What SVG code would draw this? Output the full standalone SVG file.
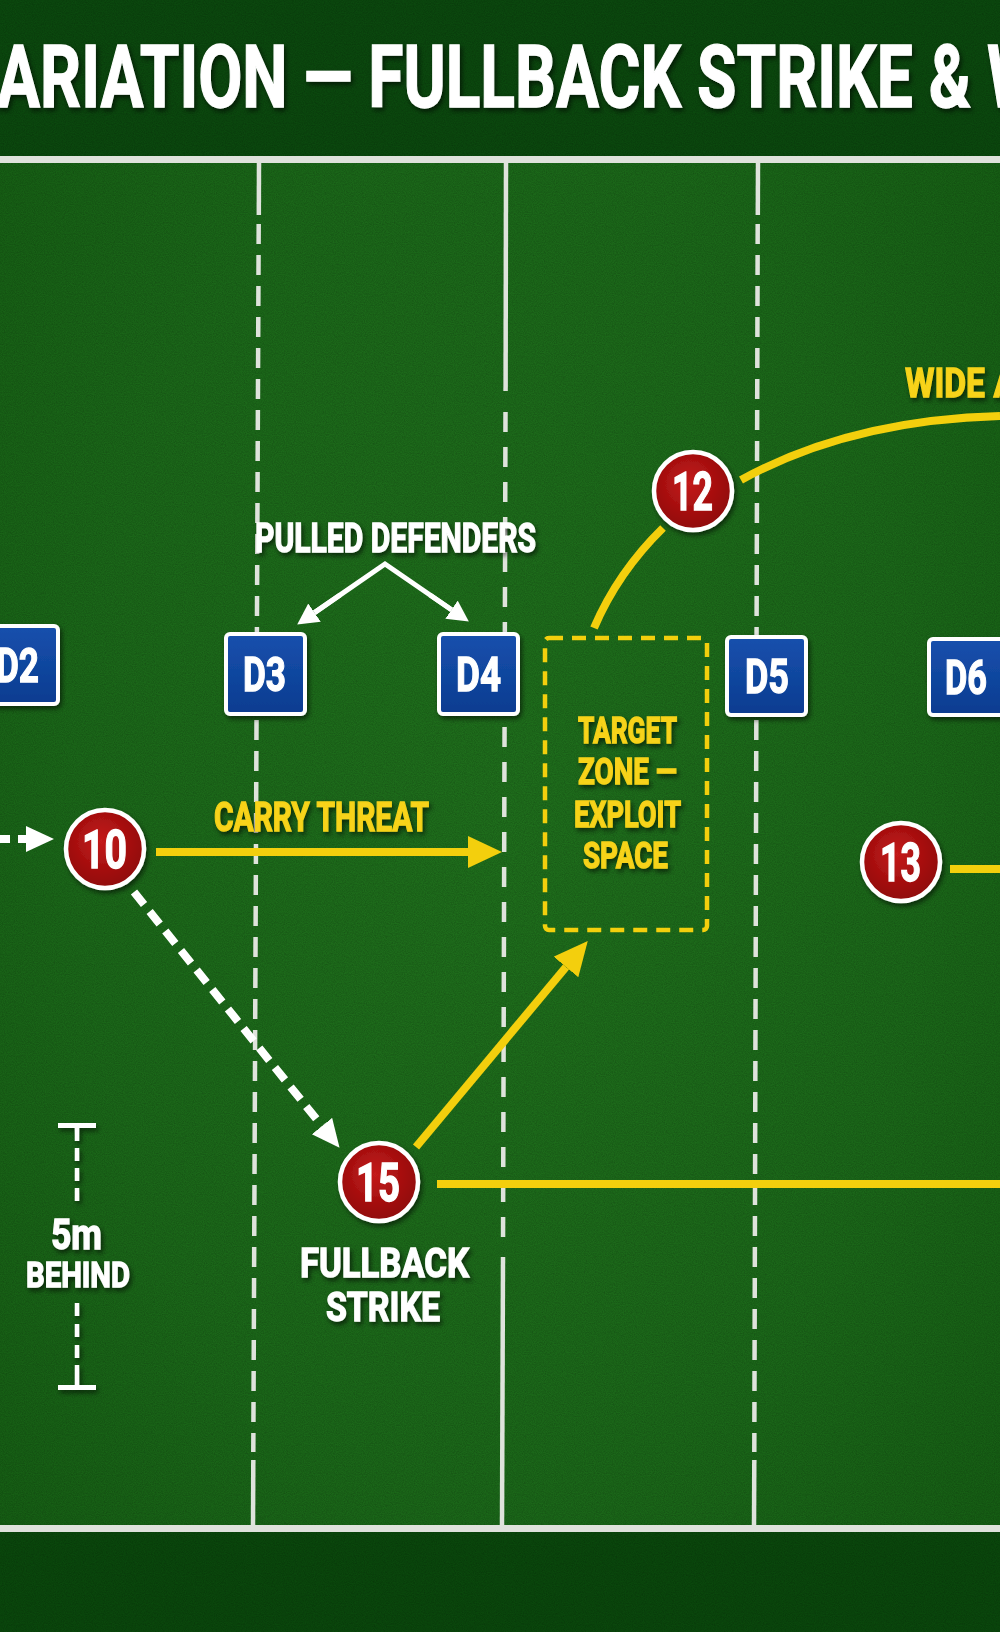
<svg xmlns="http://www.w3.org/2000/svg" width="1000" height="1632" viewBox="0 0 1000 1632">
<defs>
  <style>
    .lbl { font-family: Roboto, "Liberation Sans", Arial, sans-serif; font-weight: 700; }
    .wt { fill: #ffffff; stroke: #ffffff; stroke-width: 1.3; }
    .yt { fill: #f7d31a; stroke: #f7d31a; stroke-width: 1.3; }
    .fl { stroke: #dfe3dc; stroke-width: 4.5; fill: none; }
    .box { fill: url(#boxg); stroke: #ffffff; stroke-width: 4; }
    .disc { fill: url(#discg); stroke: #ffffff; stroke-width: 4.5; }
    .ylw { stroke: #f3cf0d; stroke-width: 8; fill: none; }
    .wdash { stroke: #ffffff; stroke-width: 8; fill: none; stroke-dasharray: 16 9; }
  </style>
  <radialGradient id="fieldg" cx="0.5" cy="0.5" r="0.7">
    <stop offset="0" stop-color="#1f6e1c"/>
    <stop offset="0.6" stop-color="#1b6719"/>
    <stop offset="1" stop-color="#155c13"/>
  </radialGradient>
  <linearGradient id="boxg" x1="0" y1="0" x2="0" y2="1">
    <stop offset="0" stop-color="#1650ad"/>
    <stop offset="1" stop-color="#0b3c90"/>
  </linearGradient>
  <radialGradient id="discg" cx="0.45" cy="0.4" r="0.65">
    <stop offset="0" stop-color="#c41a1a"/>
    <stop offset="1" stop-color="#8c0707"/>
  </radialGradient>
  <filter id="noise" x="0" y="0" width="1" height="1">
    <feTurbulence type="fractalNoise" baseFrequency="0.9" numOctaves="2" seed="7"/>
    <feColorMatrix type="matrix" values="0 0 0 0 0  0 0 0 0 0  0 0 0 0 0  1 0 0 0 -0.3"/>
  </filter>
  <filter id="sh" x="-20%" y="-20%" width="140%" height="150%">
    <feDropShadow dx="2" dy="3" stdDeviation="2.5" flood-color="#000" flood-opacity="0.55"/>
  </filter>
  <filter id="tsh" x="-10%" y="-20%" width="120%" height="160%">
    <feDropShadow dx="2" dy="3" stdDeviation="2.5" flood-color="#000" flood-opacity="0.6"/>
  </filter>
  <marker id="yhead" markerUnits="userSpaceOnUse" markerWidth="36" markerHeight="34" refX="0" refY="16" orient="auto" viewBox="0 0 36 34">
    <path d="M0,0 L34,16 L0,32 z" fill="#f3cf0d"/>
  </marker>
  <marker id="whead" markerUnits="userSpaceOnUse" markerWidth="30" markerHeight="28" refX="0" refY="13" orient="auto" viewBox="0 0 30 28">
    <path d="M0,0 L28,13 L0,26 z" fill="#ffffff"/>
  </marker>
  <marker id="wsmall" markerUnits="userSpaceOnUse" markerWidth="22" markerHeight="24" refX="0" refY="11" orient="auto" viewBox="0 0 22 24">
    <path d="M0,0 L21,11 L0,22 z" fill="#ffffff"/>
  </marker>
</defs>

<!-- background -->
<g id="background">
  <rect x="0" y="0" width="1000" height="1632" fill="url(#fieldg)"/>
  <rect x="0" y="0" width="1000" height="158" fill="#0b480e"/>
  <rect x="0" y="1530" width="1000" height="102" fill="#0a470c"/>
  <rect x="0" y="0" width="1000" height="1632" filter="url(#noise)" opacity="0.3"/>
</g>

<!-- field markings -->
<g id="field-lines">
  <rect x="0" y="156" width="1000" height="7" fill="#dfe2dc"/>
  <rect x="0" y="1525" width="1000" height="7" fill="#dfe2dc"/>
  <!-- line 1 -->
  <line class="fl" x1="259" y1="160" x2="258.8" y2="215"/>
  <line class="fl" x1="258.7" y1="224" x2="253.3" y2="1452" stroke-dasharray="20 11"/>
  <line class="fl" x1="253.3" y1="1460" x2="253" y2="1527"/>
  <!-- line 2 -->
  <line class="fl" x1="506" y1="160" x2="505.6" y2="391"/>
  <line class="fl" x1="505.5" y1="412" x2="503" y2="1250" stroke-dasharray="20 15"/>
  <line class="fl" x1="503" y1="1257" x2="502" y2="1527"/>
  <!-- line 3 -->
  <line class="fl" x1="758" y1="160" x2="757.8" y2="215"/>
  <line class="fl" x1="757.7" y1="224" x2="754.3" y2="1452" stroke-dasharray="20 11"/>
  <line class="fl" x1="754.3" y1="1460" x2="754" y2="1527"/>
</g>

<!-- title -->
<g id="title" filter="url(#tsh)">
  <text class="lbl wt" x="-3" y="107" font-size="87" stroke-width="2.5" textLength="1046" lengthAdjust="spacingAndGlyphs">ARIATION — FULLBACK STRIKE &amp; W</text>
</g>

<!-- target zone -->
<g id="target-zone">
  <rect x="545" y="638" width="162" height="292" rx="4" fill="none" stroke="#f3cf0d" stroke-width="4.5" stroke-dasharray="14 9"/>
  <g filter="url(#tsh)">
    <text class="lbl yt" x="578" y="743" font-size="37" textLength="99" lengthAdjust="spacingAndGlyphs">TARGET</text>
    <text class="lbl yt" x="578" y="784" font-size="37" textLength="99" lengthAdjust="spacingAndGlyphs">ZONE —</text>
    <text class="lbl yt" x="574" y="827" font-size="37" textLength="107" lengthAdjust="spacingAndGlyphs">EXPLOIT</text>
    <text class="lbl yt" x="583" y="868" font-size="37" textLength="85" lengthAdjust="spacingAndGlyphs">SPACE</text>
  </g>
</g>

<!-- connectors -->
<g id="connectors">
  <!-- incoming dashed to 10 -->
  <line x1="0" y1="839" x2="26" y2="839" stroke="#ffffff" stroke-width="8" stroke-dasharray="10 8" marker-end="url(#whead)"/>
  <!-- carry threat -->
  <line class="ylw" x1="156" y1="852" x2="468" y2="852" marker-end="url(#yhead)"/>
  <!-- 10 to 15 dashed -->
  <line class="wdash" x1="134" y1="892" x2="322" y2="1126" marker-end="url(#whead)"/>
  <!-- 15 to target zone -->
  <line class="ylw" x1="416" y1="1147" x2="566" y2="967" marker-end="url(#yhead)"/>
  <!-- 15 to right -->
  <line class="ylw" x1="437" y1="1184" x2="1000" y2="1184"/>
  <!-- 13 to right -->
  <line class="ylw" x1="950" y1="869" x2="1000" y2="869"/>
  <!-- target zone to 12 -->
  <path class="ylw" d="M594,628 Q618,572 663,528"/>
  <!-- 12 wide -->
  <path class="ylw" d="M741,480 Q850,420 1000,416"/>
  <!-- pulled defenders arrows -->
  <polyline points="314.5,612.6 385,564 451.5,609.7" fill="none" stroke="#ffffff" stroke-width="5" stroke-linejoin="miter"/>
  <line x1="340" y1="595" x2="314.5" y2="612.6" stroke="#ffffff" stroke-width="5" marker-end="url(#wsmall)"/>
  <line x1="430" y1="595" x2="451.5" y2="609.7" stroke="#ffffff" stroke-width="5" marker-end="url(#wsmall)"/>
</g>

<!-- labels -->
<g id="labels" filter="url(#tsh)">
  <text class="lbl wt" x="255" y="552" font-size="41" textLength="281" lengthAdjust="spacingAndGlyphs">PULLED DEFENDERS</text>
  <text class="lbl yt" x="214" y="831" font-size="41" textLength="215" lengthAdjust="spacingAndGlyphs">CARRY THREAT</text>
  <text class="lbl yt" x="905" y="397" font-size="41" textLength="111" lengthAdjust="spacingAndGlyphs">WIDE A</text>
  <text class="lbl wt" x="300" y="1277" font-size="41" textLength="169" lengthAdjust="spacingAndGlyphs">FULLBACK</text>
  <text class="lbl wt" x="326" y="1321" font-size="41" textLength="114" lengthAdjust="spacingAndGlyphs">STRIKE</text>
</g>

<!-- 5m behind scale -->
<g id="scale-5m">
  <g filter="url(#sh)">
    <rect x="58" y="1123" width="38" height="5" fill="#ffffff"/>
    <line x1="77" y1="1126" x2="77" y2="1141" stroke="#ffffff" stroke-width="4.5"/>
    <line x1="77" y1="1148" x2="77" y2="1203" stroke="#ffffff" stroke-width="4.5" stroke-dasharray="13 7"/>
    <line x1="77" y1="1303" x2="77" y2="1358" stroke="#ffffff" stroke-width="4.5" stroke-dasharray="13 8"/>
    <line x1="77" y1="1365" x2="77" y2="1387" stroke="#ffffff" stroke-width="4.5"/>
    <rect x="58" y="1385" width="38" height="5" fill="#ffffff"/>
  </g>
  <g filter="url(#tsh)">
    <text class="lbl wt" x="51" y="1249" font-size="43" textLength="51" lengthAdjust="spacingAndGlyphs">5m</text>
    <text class="lbl wt" x="26" y="1287" font-size="35" textLength="104" lengthAdjust="spacingAndGlyphs">BEHIND</text>
  </g>
</g>

<!-- defenders -->
<g id="D2" filter="url(#sh)">
  <rect class="box" x="-22" y="626" width="80" height="78" rx="4"/>
  <text class="lbl wt" x="-4" y="682" font-size="48" textLength="43" lengthAdjust="spacingAndGlyphs">D2</text>
</g>
<g id="D3" filter="url(#sh)">
  <rect class="box" x="226" y="634" width="79" height="80" rx="4"/>
  <text class="lbl wt" x="243" y="691" font-size="48" textLength="43" lengthAdjust="spacingAndGlyphs">D3</text>
</g>
<g id="D4" filter="url(#sh)">
  <rect class="box" x="439" y="634" width="79" height="80" rx="4"/>
  <text class="lbl wt" x="456" y="691" font-size="48" textLength="45" lengthAdjust="spacingAndGlyphs">D4</text>
</g>
<g id="D5" filter="url(#sh)">
  <rect class="box" x="727" y="637" width="79" height="78" rx="4"/>
  <text class="lbl wt" x="745" y="693" font-size="48" textLength="44" lengthAdjust="spacingAndGlyphs">D5</text>
</g>
<g id="D6" filter="url(#sh)">
  <rect class="box" x="929" y="639" width="79" height="76" rx="4"/>
  <text class="lbl wt" x="945" y="694" font-size="48" textLength="42" lengthAdjust="spacingAndGlyphs">D6</text>
</g>

<!-- attackers -->
<g id="P10" filter="url(#sh)">
  <circle class="disc" cx="105" cy="849" r="39"/>
  <text class="lbl wt" x="82" y="868" font-size="53" textLength="45" lengthAdjust="spacingAndGlyphs">10</text>
</g>
<g id="P12" filter="url(#sh)">
  <circle class="disc" cx="693" cy="491" r="39"/>
  <text class="lbl wt" x="672" y="510" font-size="53" textLength="41" lengthAdjust="spacingAndGlyphs">12</text>
</g>
<g id="P13" filter="url(#sh)">
  <circle class="disc" cx="901" cy="862" r="39"/>
  <text class="lbl wt" x="880" y="881" font-size="53" textLength="41" lengthAdjust="spacingAndGlyphs">13</text>
</g>
<g id="P15" filter="url(#sh)">
  <circle class="disc" cx="379" cy="1182" r="39"/>
  <text class="lbl wt" x="356" y="1201" font-size="53" textLength="44" lengthAdjust="spacingAndGlyphs">15</text>
</g>
</svg>
